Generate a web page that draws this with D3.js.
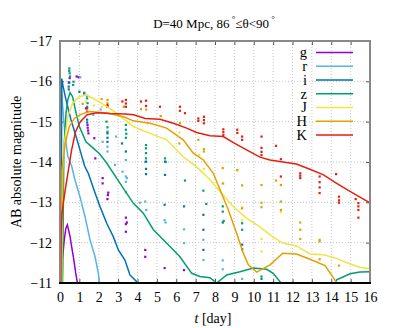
<!DOCTYPE html>
<html>
<head>
<meta charset="utf-8">
<script src="https://cdn.jsdelivr.net/npm/d3@7"></script>
<style>
  body { margin: 0; background: #fff; }
  svg text { font-family: 'Liberation Serif', LiberationSerif, Tinos, 'DejaVu Serif', serif; fill: #000; }
</style>
</head>
<body>
<script>
// band names and colours (gnuplot default palette)
var bands = ["g", "r", "i", "z", "J", "H", "K"];
var colors = ["#9400d3", "#56b4e9", "#0072b2", "#009e73", "#f0e442", "#e69f00", "#e51e10"];

var xTicks = [0, 1, 2, 3, 4, 5, 6, 7, 8, 9, 10, 11, 12, 13, 14, 15, 16];
var yTicks = [-17, -16, -15, -14, -13, -12, -11];

// model light curves [t (day), AB mag]
var gLine = [[0.1, -10.5], [0.13, -11.6], [0.22, -12.07], [0.3, -12.35], [0.38, -12.44], [0.45, -12.3],
  [0.52, -12.15], [0.6, -11.9], [0.69, -11.65], [0.81, -11.25], [0.9, -11.0], [0.95, -10.8]];
var rLine = [[0.03, -10.5], [0.07, -15.85], [0.12, -15.5], [0.25, -14.7], [0.4, -14.15], [0.6, -13.9],
  [0.77, -13.56], [1.03, -13.14], [1.29, -12.65], [1.55, -12.07], [1.81, -11.65], [1.98, -11.24], [2.06, -10.9]];
var iLine = [[0.05, -10.5], [0.09, -16.07], [0.15, -15.9], [0.31, -15.54], [0.57, -15.04], [0.83, -14.63],
  [1.08, -14.22], [1.27, -13.9], [1.46, -13.72], [1.81, -13.23], [2.06, -12.9], [2.41, -12.48], [2.75, -12.15],
  [3.01, -11.82], [3.35, -11.57], [3.61, -11.2], [3.96, -11.03], [4.1, -10.9]];
var zLine = [[0.12, -10.5], [0.2, -14.3], [0.31, -15.21], [0.4, -15.54], [0.52, -15.72], [0.65, -15.62],
  [0.83, -15.21], [1.0, -14.88], [1.34, -14.5], [1.7, -14.35], [2.05, -14.2], [2.4, -13.98], [3.1, -13.47],
  [3.78, -12.98], [4.3, -12.73], [4.82, -12.32], [5.5, -11.99], [6.19, -11.65], [6.8, -11.24], [7.22, -11.16],
  [7.74, -11.13], [8.09, -11.0], [8.6, -11.2], [9.29, -11.28], [9.98, -11.37], [10.67, -11.34], [11.0, -11.24],
  [11.5, -10.95], [14.2, -10.95], [14.28, -11.08], [14.97, -11.23], [15.48, -11.27], [16, -11.28]];
var JLine = [[0.08, -10.5], [0.14, -13.8], [0.22, -14.46], [0.4, -15.12], [0.65, -15.46], [1.0, -15.62],
  [1.34, -15.66], [1.69, -15.58], [2.1, -15.47], [2.93, -15.21], [3.78, -14.88], [4.65, -14.71], [5.5, -14.55],
  [6.36, -14.13], [7.05, -13.88], [7.74, -13.56], [8.26, -13.27], [8.95, -12.89], [9.63, -12.61], [10.3, -12.4],
  [11.0, -12.14], [11.5, -11.99], [12.2, -11.92], [12.9, -11.72], [13.6, -11.7], [14.28, -11.61], [14.97, -11.47],
  [15.48, -11.39], [16, -11.35]];
var HLine = [[0.06, -10.5], [0.1, -13.8], [0.27, -14.46], [0.48, -14.88], [0.74, -15.08], [1.08, -15.18],
  [1.51, -15.25], [2.32, -15.22], [2.84, -15.17], [3.35, -15.11], [3.78, -15.02], [4.65, -14.96], [5.5, -14.84],
  [6.36, -14.55], [6.88, -14.22], [7.4, -14.05], [7.91, -13.72], [8.26, -13.31], [8.69, -12.81], [9.12, -12.23],
  [9.46, -11.74], [9.72, -11.45], [10.15, -11.27], [10.84, -11.45], [11.5, -11.74], [12.2, -11.72], [12.9, -11.59],
  [13.68, -11.43], [14.28, -11.01], [14.35, -10.9]];
var KLine = [[0.02, -10.5], [0.06, -12.2], [0.1, -12.7], [0.17, -12.98], [0.3, -13.4], [0.45, -13.85],
  [0.6, -14.3], [0.8, -14.75], [1.05, -15.0], [1.4, -15.17], [1.9, -15.22], [2.6, -15.2], [3.35, -15.19],
  [3.8, -15.17], [4.4, -15.08], [5.16, -15.06], [5.85, -14.96], [6.54, -14.84], [7.05, -14.73], [7.74, -14.65],
  [8.43, -14.63], [8.95, -14.48], [9.63, -14.3], [10.32, -14.12], [10.84, -14.05], [11.5, -14.0], [12.2, -13.95],
  [12.9, -13.82], [13.6, -13.68], [14.28, -13.47], [14.97, -13.27], [15.48, -13.13], [16, -12.99]];

// sampled points [t (day), AB mag]
var gPts = [[0.48, -15.97], [0.5, -16.08], [0.86, -16.12], [0.96, -16.1], [1.34, -15.33], [1.42, -14.92],
  [1.43, -14.85], [1.45, -14.78], [1.47, -14.71], [1.77, -14.59], [1.82, -14.09], [2.2, -13.6], [2.2, -13.47],
  [2.49, -13.24], [2.47, -13.18], [2.45, -13.08], [3.4, -12.62], [3.45, -12.5], [3.4, -12.46], [3.4, -12.27],
  [4.4, -11.82], [4.4, -11.65], [5.4, -11.37], [6.4, -11.32]];
var rPts = [[1.05, -16.1], [1.25, -15.72], [1.72, -15.17], [2.1, -15.3], [2.2, -14.5], [2.45, -14.38],
  [2.45, -14.26], [2.84, -13.93], [2.9, -14.63], [3.23, -13.76], [3.4, -13.64], [3.45, -13.6], [3.4, -13.51],
  [3.4, -13.25], [3.4, -14.05], [4.13, -12.99], [4.4, -13.02], [4.45, -12.81], [4.4, -14.0], [5.4, -12.56],
  [5.45, -12.5], [6.4, -12.33], [6.4, -11.99], [7.4, -12.07], [7.4, -11.57], [8.4, -11.56], [8.4, -11.34],
  [9.4, -11.1]];
var iPts = [[0.45, -15.97], [0.45, -15.87], [0.45, -15.8], [1.0, -15.74], [1.25, -15.7], [1.4, -15.05],
  [1.4, -14.98], [2.45, -14.71], [2.45, -14.6], [2.45, -14.5], [3.2, -14.46], [3.4, -14.26], [4.44, -14.01],
  [4.44, -13.83], [4.44, -13.7], [5.42, -14.01], [5.42, -13.68], [5.4, -12.94], [6.4, -12.9], [7.4, -12.69],
  [7.4, -12.32], [7.4, -11.82], [8.4, -12.5], [9.4, -11.95], [9.4, -11.84]];
var zPts = [[0.48, -16.32], [0.48, -16.26], [0.5, -16.2], [0.52, -16.12], [0.7, -15.99], [0.68, -15.91],
  [1.4, -15.64], [1.4, -15.58], [1.42, -15.46], [1.4, -15.37], [2.4, -15.0], [2.45, -14.86], [2.45, -14.75],
  [3.4, -14.92], [3.4, -14.8], [3.42, -14.7], [3.4, -14.6], [4.44, -14.42], [4.44, -14.34], [4.44, -14.22],
  [4.44, -14.09], [5.42, -14.09], [5.46, -14.0], [6.45, -13.54], [7.4, -13.29], [7.55, -12.96], [8.4, -12.9],
  [8.4, -12.77], [8.45, -12.54], [9.4, -12.48], [9.4, -12.32], [10.4, -11.16], [10.4, -11.1]];
var JPts = [[1.35, -15.5], [1.75, -15.4], [2.15, -15.37], [2.45, -15.37], [3.3, -15.37], [4.51, -14.96],
  [6.16, -14.73], [7.19, -14.17], [7.43, -13.83], [8.43, -13.46], [9.15, -13.79], [9.4, -12.88], [9.4, -12.55],
  [10.4, -12.09], [10.4, -11.78], [11.4, -12.76]];
var HPts = [[1.17, -15.44], [2.15, -15.56], [2.45, -15.54], [2.45, -15.46], [3.3, -15.37], [4.18, -15.31],
  [4.45, -15.3], [5.2, -15.14], [6.19, -14.96], [6.16, -14.46], [7.14, -14.55], [7.43, -14.32], [7.43, -14.26],
  [8.4, -13.85], [8.4, -13.47], [9.15, -13.8], [9.4, -13.42], [9.4, -12.85], [10.4, -13.43], [10.4, -12.99],
  [10.4, -12.88], [11.15, -13.54], [11.4, -13.43], [11.4, -13.02], [11.4, -12.81], [12.4, -12.5], [12.4, -12.32],
  [12.4, -12.09], [13.4, -12.07], [13.4, -12.03], [13.4, -11.59], [14.4, -11.43]];
var KPts = [[1.4, -15.33], [1.4, -15.25], [2.45, -15.41], [2.45, -15.37], [3.22, -15.5], [3.4, -15.54],
  [3.4, -15.45], [3.4, -15.37], [4.18, -15.5], [4.44, -15.52], [4.44, -15.39], [5.16, -15.37], [6.19, -15.37],
  [6.19, -15.27], [6.45, -15.21], [7.14, -15.08], [7.14, -15.02], [7.43, -15.12], [7.43, -15.04], [7.43, -14.96],
  [8.43, -14.81], [8.43, -14.74], [8.43, -14.67], [9.15, -14.8], [9.15, -14.72], [9.4, -14.63], [9.4, -14.55],
  [10.4, -14.63], [10.4, -14.35], [10.4, -14.25], [10.4, -14.17], [11.15, -14.4], [11.4, -14.07], [11.4, -13.64],
  [12.4, -13.72], [12.4, -13.66], [12.4, -13.6], [13.4, -13.64], [13.4, -13.5], [13.4, -13.37], [13.4, -13.23],
  [14.25, -13.7], [14.4, -13.14], [14.4, -13.05], [14.4, -12.99], [15.26, -13.08], [15.4, -12.98], [15.4, -12.9],
  [15.4, -12.81], [15.4, -12.62]];

var lines = [gLine, rLine, iLine, zLine, JLine, HLine, KLine];
var pts = [gPts, rPts, iPts, zPts, JPts, HPts, KPts];

var margin = { top: 41, right: 25, bottom: 45, left: 60 },
  width = 395 - margin.left - margin.right,
  height = 328 - margin.top - margin.bottom;

var x = d3.scaleLinear().domain([0, 16]).range([0, width]);
var y = d3.scaleLinear().domain([-17, -11]).range([0, height]);

var svg = d3.select("body").append("svg")
  .attr("width", 395)
  .attr("height", 328)
  .attr("font-family", "'Liberation Serif', serif");

svg.append("defs").append("clipPath").attr("id", "clip")
  .append("rect").attr("width", width).attr("height", height);

var g = svg.append("g")
  .attr("transform", "translate(" + margin.left + "," + margin.top + ")");

// grid
g.append("g").selectAll("line").data(xTicks.slice(1, -1)).join("line")
  .attr("x1", d => x(d)).attr("x2", d => x(d))
  .attr("y1", 0).attr("y2", height)
  .attr("stroke", "#b8b8b8").attr("stroke-width", 0.8).attr("stroke-dasharray", "1,2");
g.append("g").selectAll("line").data(yTicks.slice(1, -1)).join("line")
  .attr("x1", 0).attr("x2", width)
  .attr("y1", d => y(d)).attr("y2", d => y(d))
  .attr("stroke", "#b8b8b8").attr("stroke-width", 0.8).attr("stroke-dasharray", "1,2");

// axes (ticks inward on all sides)
var xb = g.append("g").attr("transform", "translate(0," + height + ")")
  .call(d3.axisBottom(x).tickValues(xTicks).tickSize(-4).tickPadding(9).tickFormat(d3.format("d")));
var xt = g.append("g")
  .call(d3.axisTop(x).tickValues(xTicks).tickSize(-4).tickFormat(""));
var yl = g.append("g")
  .call(d3.axisLeft(y).tickValues(yTicks).tickSize(-4).tickPadding(8).tickFormat(d3.format("d")));
var yr = g.append("g").attr("transform", "translate(" + width + ",0)")
  .call(d3.axisRight(y).tickValues(yTicks).tickSize(-4).tickFormat(""));
[xb, xt, yl, yr].forEach(function (a) {
  a.attr("font-family", null).attr("font-size", null);
  a.select(".domain").remove();
  a.selectAll(".tick line").attr("stroke", "#555").attr("stroke-width", 1);
  a.selectAll("text").style("font-size", "14px").attr("fill", "#000");
});

// curves
var line = d3.line().x(d => x(d[0])).y(d => y(d[1]));
var plot = g.append("g").attr("clip-path", "url(#clip)");

pts.forEach(function (p, k) {
  plot.append("g").selectAll("rect").data(p).join("rect")
    .attr("x", d => x(d[0]) - 1.1).attr("y", d => y(d[1]) - 1.1)
    .attr("width", 2.2).attr("height", 2.2)
    .attr("fill", colors[k]);
});

lines.forEach(function (l, k) {
  plot.append("path").datum(l)
    .attr("fill", "none")
    .attr("stroke", colors[k])
    .attr("stroke-width", 1.5)
    .attr("d", line);
});

// border
g.append("path")
  .attr("d", "M0," + height + "V0H" + width + "V" + height)
  .attr("fill", "none").attr("stroke", "#888").attr("stroke-width", 2);
g.append("line").attr("x1", -1).attr("x2", width + 1).attr("y1", height).attr("y2", height)
  .attr("stroke", "#000").attr("stroke-width", 2);

// legend
var leg = g.append("g").attr("transform", "translate(" + (307 - margin.left) + "," + (52.5 - margin.top) + ")");
bands.forEach(function (b, k) {
  var row = leg.append("g").attr("transform", "translate(0," + (k * 13.75) + ")");
  row.append("text").attr("x", 0).attr("y", 0).attr("dy", "0.33em")
    .attr("text-anchor", "end").style("font-size", "14.5px").text(b);
  row.append("line").attr("x1", 9).attr("x2", 46).attr("y1", 0).attr("y2", 0)
    .attr("stroke", colors[k]).attr("stroke-width", 1.5);
});

// title
var title = svg.append("text").attr("x", 214).attr("y", 28)
  .attr("text-anchor", "middle").style("font-size", "13px");
title.append("tspan").text("D=40 Mpc, 86");
title.append("tspan").attr("dy", -6).style("font-size", "9px").text(" °");
title.append("tspan").attr("dy", 6).text("≤θ<90");
title.append("tspan").attr("dy", -6).style("font-size", "9px").text(" °");

// axis labels
var xl = svg.append("text").attr("x", 213).attr("y", 323)
  .attr("text-anchor", "middle").style("font-size", "14px");
xl.append("tspan").style("font-style", "italic").text("t");
xl.append("tspan").text(" [day]");

svg.append("text")
  .attr("transform", "translate(21," + (margin.top + height / 2) + ") rotate(-90)")
  .attr("text-anchor", "middle").style("font-size", "14px")
  .text("AB absolute magnitude");
</script>
</body>
</html>
